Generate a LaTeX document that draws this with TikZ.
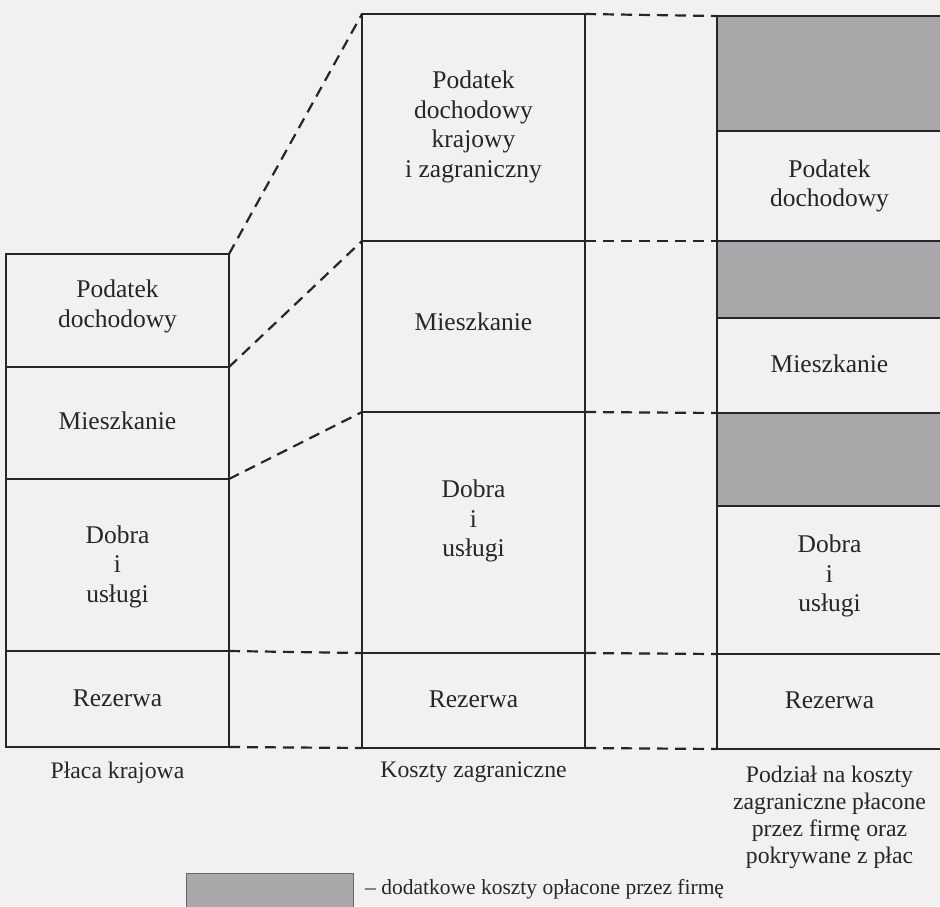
\documentclass[tikz,border=0pt]{standalone}
\usepackage{fontspec}
\setmainfont{Liberation Serif}
\definecolor{ink}{RGB}{38,38,42}
\definecolor{paper}{RGB}{241,241,242}
\definecolor{shade}{RGB}{168,168,170}
\tikzset{
  cell/.style={draw=ink, line width=2.2pt, rectangle, inner sep=0pt, outer sep=0pt, anchor=north west},
  paid/.style={cell, fill=shade},
  lbl/.style={text=ink, align=center, font=\fontsize{25.5}{29.5}\selectfont, inner sep=0pt},
  coltitle/.style={text=ink, align=center, font=\fontsize{23.7}{27}\selectfont, inner sep=0pt},
  link/.style={draw=ink, line width=2.2pt, dash pattern=on 11pt off 7pt},
}
\begin{document}
\begin{tikzpicture}[x=1pt,y=-1pt]
  \fill[paper] (0,0) rectangle (940,906);
  \useasboundingbox (0,0) rectangle (940,906);

  % domestic salary column
  \node[cell, minimum width=223pt, minimum height=113pt] (lpod) at (6,254) {};
  \node[cell, minimum width=223pt, minimum height=112pt] (lmie) at (6,367) {};
  \node[cell, minimum width=223pt, minimum height=172pt] (ldob) at (6,479) {};
  \node[cell, minimum width=223pt, minimum height=96pt]  (lrez) at (6,651) {};
  \node[lbl] (lpodt) at (117.5,306.5) {Podatek\\dochodowy};
  \node[lbl] (lmiet) at (117.5,421) {Mieszkanie};
  \node[lbl] (ldobt) at (117.5,566.5) {Dobra\\i\\usługi};
  \node[lbl] (lrezt) at (117.5,698) {Rezerwa};
  \node[coltitle] (lcap) at (117.5,772.5) {Płaca krajowa};

  % foreign costs column
  \node[cell, minimum width=223pt, minimum height=227pt] (mpod) at (362,14) {};
  \node[cell, minimum width=223pt, minimum height=171pt] (mmie) at (362,241) {};
  \node[cell, minimum width=223pt, minimum height=241pt] (mdob) at (362,412) {};
  \node[cell, minimum width=223pt, minimum height=95pt]  (mrez) at (362,653) {};
  \node[lbl] (mpodt) at (473.5,127) {Podatek\\dochodowy\\krajowy\\i zagraniczny};
  \node[lbl] (mmiet) at (473.5,322) {Mieszkanie};
  \node[lbl] (mdobt) at (473.5,521) {Dobra\\i\\usługi};
  \node[lbl] (mrezt) at (473.5,699) {Rezerwa};
  \node[coltitle] (mcap) at (473.5,772.5) {Koszty zagraniczne};

  % split column: company-paid extras shaded
  \node[paid, minimum width=225pt, minimum height=115pt] (rg1) at (717,16) {};
  \node[cell, minimum width=225pt, minimum height=110pt] (rpod) at (717,131) {};
  \node[paid, minimum width=225pt, minimum height=77pt]  (rg2) at (717,241) {};
  \node[cell, minimum width=225pt, minimum height=95pt]  (rmie) at (717,318) {};
  \node[paid, minimum width=225pt, minimum height=93pt]  (rg3) at (717,413) {};
  \node[cell, minimum width=225pt, minimum height=148pt] (rdob) at (717,506) {};
  \node[cell, minimum width=225pt, minimum height=95pt]  (rrez) at (717,654) {};
  \node[lbl] (rpodt) at (829.5,186) {Podatek\\dochodowy};
  \node[lbl] (rmiet) at (829.5,364) {Mieszkanie};
  \node[lbl] (rdobt) at (829.5,576) {Dobra\\i\\usługi};
  \node[lbl] (rrezt) at (829.5,700) {Rezerwa};
  \node[coltitle] (rcap) at (829.5,817.5) {Podział na koszty\\zagraniczne płacone\\przez firmę oraz\\pokrywane z płac};

  % dashed links between matching boundaries
  \draw[link] (lpod.north east) -- (mpod.north west);
  \draw[link] (lpod.south east) -- (mpod.south west);
  \draw[link] (lmie.south east) -- (mmie.south west);
  \draw[link] (lrez.north east) -- (mrez.north west);
  \draw[link] (lrez.south east) -- (mrez.south west);
  \draw[link] (mpod.north east) -- (rg1.north west);
  \draw[link] (mpod.south east) -- (rpod.south west);
  \draw[link] (mmie.south east) -- (rmie.south west);
  \draw[link] (mrez.north east) -- (rrez.north west);
  \draw[link] (mrez.south east) -- (rrez.south west);

  % legend
  \node[draw=ink!70, line width=0.8pt, fill=shade, minimum width=167pt, minimum height=40pt,
        inner sep=0pt, outer sep=0pt, anchor=north west] (key) at (186,873) {};
  \node[text=ink, font=\fontsize{21.5}{25}\selectfont, inner sep=0pt, anchor=base west] (keyt)
        at (365,894) {– dodatkowe koszty opłacone przez firmę};
\end{tikzpicture}
\end{document}
